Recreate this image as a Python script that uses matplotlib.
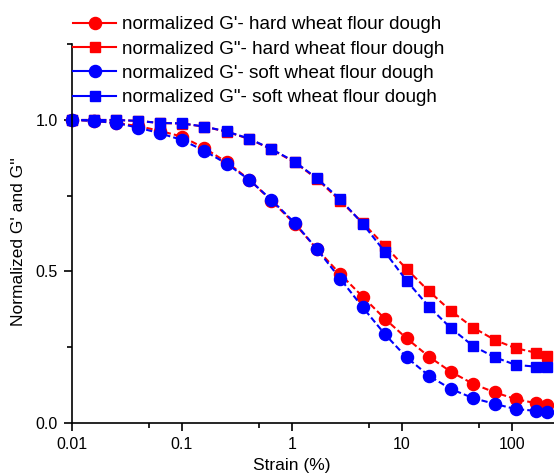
import matplotlib
matplotlib.use("Agg")
import matplotlib.pyplot as plt
from matplotlib.lines import Line2D
from matplotlib.ticker import FixedLocator, NullFormatter, MultipleLocator

plt.rcParams['font.family'] = ['Liberation Sans', 'DejaVu Sans']

strain = [0.01, 0.0158, 0.0251, 0.0398, 0.0631, 0.1, 0.16, 0.256, 0.41, 0.65,
          1.06, 1.69, 2.74, 4.4, 7.0, 11.0, 17.6, 27.9, 44.5, 70, 108, 167, 206]

hard_Gp = [1.0, 0.997, 0.99, 0.98, 0.964, 0.945, 0.907, 0.86, 0.803, 0.733,
           0.657, 0.573, 0.491, 0.416, 0.343, 0.279, 0.218, 0.168, 0.128, 0.100,
           0.078, 0.064, 0.058]
hard_Gpp = [1.0, 1.0, 1.0, 0.997, 0.99, 0.988, 0.978, 0.961, 0.937, 0.903,
            0.860, 0.805, 0.733, 0.660, 0.584, 0.508, 0.434, 0.369, 0.314, 0.273,
            0.246, 0.231, 0.221]
soft_Gp = [1.0, 0.997, 0.99, 0.975, 0.956, 0.934, 0.898, 0.855, 0.802, 0.736,
           0.660, 0.573, 0.476, 0.381, 0.292, 0.216, 0.155, 0.111, 0.081, 0.062,
           0.045, 0.039, 0.034]
soft_Gpp = [1.0, 1.0, 1.0, 0.997, 0.99, 0.989, 0.978, 0.962, 0.938, 0.904,
            0.862, 0.807, 0.738, 0.657, 0.564, 0.469, 0.383, 0.312, 0.253, 0.216,
            0.191, 0.185, 0.183]

labels = ["normalized G'- hard wheat flour dough",
          "normalized G\"- hard wheat flour dough",
          "normalized G'- soft wheat flour dough",
          "normalized G\"- soft wheat flour dough"]

fig = plt.figure(figsize=(5.54, 4.75), dpi=100)
ax = fig.add_axes([72/554, 52.3/475, 1 - 72/554, (422.7 - 44.3)/475])

dash = (0, (3, 1.5))
series = [
    (hard_Gp, 'red', 'o', 8.7),
    (hard_Gpp, 'red', 's', 7.5),
    (soft_Gp, 'blue', 'o', 8.7),
    (soft_Gpp, 'blue', 's', 7.5),
]
handles = []
for (vals, col, mk, ms), lab in zip(series, labels):
    ax.plot(strain, vals, linestyle=dash, color=col, lw=1.5, marker=mk,
            markersize=ms, markerfacecolor=col, markeredgecolor=col, clip_on=False)
    handles.append(Line2D([], [], color=col, lw=1.5, marker=mk, markersize=ms))

ax.set_xscale('log')
ax.set_xlim(0.01, 241)
ax.set_ylim(0, 1.25)
ax.set_xticks([0.01, 0.1, 1, 10, 100])
ax.set_xticklabels(['0.01', '0.1', '1', '10', '100'])
ax.xaxis.set_minor_locator(FixedLocator([0.05, 0.5, 5, 50]))
ax.xaxis.set_minor_formatter(NullFormatter())
ax.set_yticks([0.0, 0.5, 1.0])
ax.set_yticklabels(['0.0', '0.5', '1.0'])
ax.yaxis.set_minor_locator(MultipleLocator(0.25))

for s in ['top', 'right']:
    ax.spines[s].set_visible(False)
for s in ['left', 'bottom']:
    ax.spines[s].set_linewidth(1.2)
ax.tick_params(which='major', direction='out', length=6, width=1.2, labelsize=11.5, pad=4)
ax.tick_params(which='minor', direction='out', length=3.5, width=1.2)

ax.set_xlabel('Strain (%)', fontsize=12.5)
ax.set_ylabel("Normalized G' and G''", fontsize=12.5)
ax.xaxis.set_label_coords((292 - 72) / 482, -0.094)
ax.yaxis.set_label_coords(-0.096, 0.48)

fig.legend(handles, labels, loc='upper left', bbox_to_anchor=(73/554, 1 - 16/475),
           frameon=False, fontsize=13.6, handlelength=2.28, handletextpad=0.32,
           labelspacing=0.38, borderpad=0, borderaxespad=0)

fig.savefig('out.png', dpi=100)
